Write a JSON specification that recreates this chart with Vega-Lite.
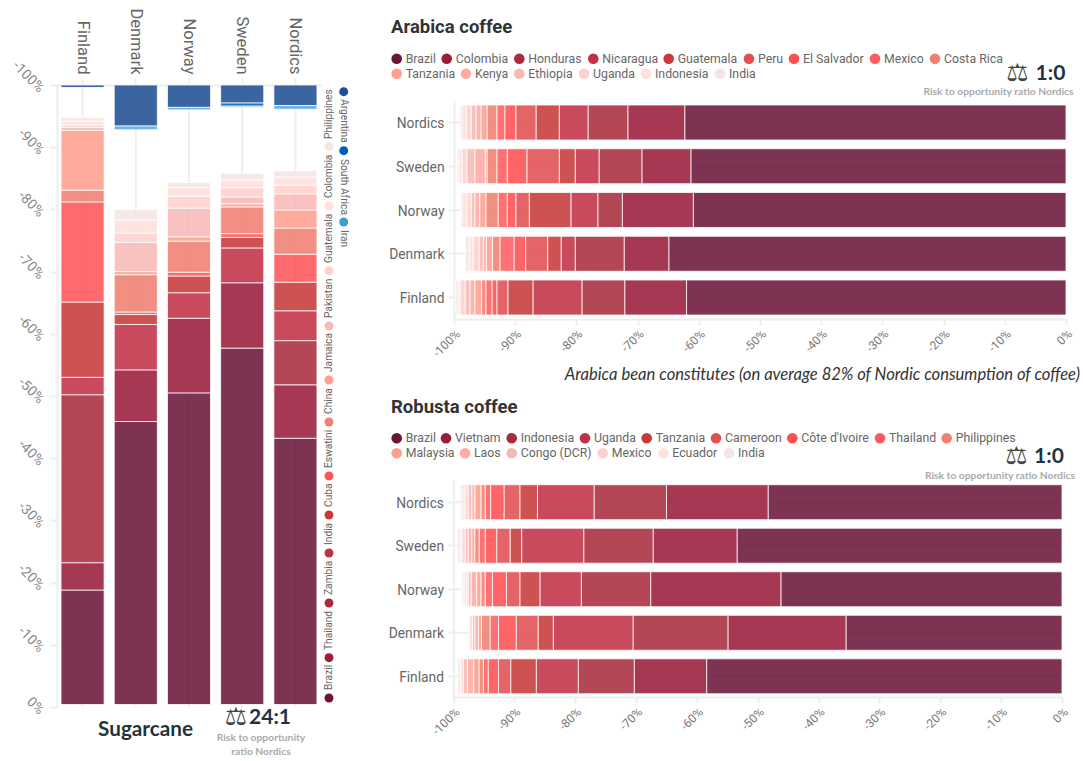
{"$schema":"https://vega.github.io/schema/vega-lite/v6.json","width":1083,"height":761,"autosize":{"type":"fit","contains":"padding"},"padding":0,"background":"white","config":{"view":{"stroke":null},"text":{"font":"Roboto"},"axis":{"domainColor":"#eeeeee","domainWidth":2,"tickColor":"#eeeeee","tickWidth":2,"grid":false,"title":null,"labelFont":"Roboto"}},"resolve":{"scale":{"x":"independent","y":"independent","color":"independent"},"axis":{"x":"independent","y":"independent"},"legend":{"color":"independent"}},
"datasets":{
"markets":[{"market":"Nordics"},{"market":"Sweden"},{"market":"Norway"},{"market":"Denmark"},{"market":"Finland"}],
"sugar":[
{"market":"Finland","origin":"Brazil","start":-0.4,"end":-18.8},{"market":"Finland","origin":"Thailand","start":-18.8,"end":-23.2},{"market":"Finland","origin":"Zambia","start":-23.2,"end":-50.2},{"market":"Finland","origin":"India","start":-50.2,"end":-53.0},{"market":"Finland","origin":"Cuba","start":-53.0,"end":-65.1},{"market":"Finland","origin":"Eswatini","start":-65.1,"end":-81.2},{"market":"Finland","origin":"China","start":-81.2,"end":-83.1},{"market":"Finland","origin":"Jamaica","start":-83.1,"end":-92.7},{"market":"Finland","origin":"Pakistan","start":-92.7,"end":-93.2},{"market":"Finland","origin":"Guatemala","start":-93.2,"end":-93.6},{"market":"Finland","origin":"Colombia","start":-93.6,"end":-94.2},{"market":"Finland","origin":"Philippines","start":-94.2,"end":-94.8},{"market":"Finland","origin":"Argentina","start":-100,"end":-99.6},{"market":"Finland","origin":"Iran","start":-99.6,"end":-99.5},
{"market":"Denmark","origin":"Brazil","start":-0.4,"end":-45.9},{"market":"Denmark","origin":"Thailand","start":-45.9,"end":-54.2},{"market":"Denmark","origin":"India","start":-54.2,"end":-61.5},{"market":"Denmark","origin":"Cuba","start":-61.5,"end":-63.1},{"market":"Denmark","origin":"Eswatini","start":-63.1,"end":-63.5},{"market":"Denmark","origin":"China","start":-63.5,"end":-69.5},{"market":"Denmark","origin":"Jamaica","start":-69.5,"end":-70.0},{"market":"Denmark","origin":"Pakistan","start":-70.0,"end":-74.7},{"market":"Denmark","origin":"Guatemala","start":-74.7,"end":-76.2},{"market":"Denmark","origin":"Colombia","start":-76.2,"end":-78.3},{"market":"Denmark","origin":"Philippines","start":-78.3,"end":-80.0},{"market":"Denmark","origin":"Argentina","start":-100,"end":-93.4},{"market":"Denmark","origin":"Iran","start":-93.4,"end":-92.8},
{"market":"Norway","origin":"Brazil","start":-0.4,"end":-50.5},{"market":"Norway","origin":"Thailand","start":-50.5,"end":-62.5},{"market":"Norway","origin":"India","start":-62.5,"end":-66.6},{"market":"Norway","origin":"Cuba","start":-66.6,"end":-69.3},{"market":"Norway","origin":"Eswatini","start":-69.3,"end":-69.9},{"market":"Norway","origin":"China","start":-69.9,"end":-74.9},{"market":"Norway","origin":"Jamaica","start":-74.9,"end":-75.6},{"market":"Norway","origin":"Pakistan","start":-75.6,"end":-80.2},{"market":"Norway","origin":"Guatemala","start":-80.2,"end":-82.1},{"market":"Norway","origin":"Colombia","start":-82.1,"end":-83.5},{"market":"Norway","origin":"Philippines","start":-83.5,"end":-84.3},{"market":"Norway","origin":"Argentina","start":-100,"end":-96.4},{"market":"Norway","origin":"Iran","start":-96.4,"end":-96.0},
{"market":"Sweden","origin":"Brazil","start":-0.4,"end":-57.7},{"market":"Sweden","origin":"Thailand","start":-57.7,"end":-68.2},{"market":"Sweden","origin":"India","start":-68.2,"end":-73.8},{"market":"Sweden","origin":"Cuba","start":-73.8,"end":-75.5},{"market":"Sweden","origin":"Eswatini","start":-75.5,"end":-76.1},{"market":"Sweden","origin":"China","start":-76.1,"end":-80.4},{"market":"Sweden","origin":"Jamaica","start":-80.4,"end":-80.9},{"market":"Sweden","origin":"Pakistan","start":-80.9,"end":-82.0},{"market":"Sweden","origin":"Guatemala","start":-82.0,"end":-83.5},{"market":"Sweden","origin":"Colombia","start":-83.5,"end":-84.7},{"market":"Sweden","origin":"Philippines","start":-84.7,"end":-85.8},{"market":"Sweden","origin":"Argentina","start":-100,"end":-97.1},{"market":"Sweden","origin":"South Africa","start":-97.1,"end":-96.6},{"market":"Sweden","origin":"Iran","start":-96.6,"end":-96.4},
{"market":"Nordics","origin":"Brazil","start":-0.4,"end":-43.2},{"market":"Nordics","origin":"Thailand","start":-43.2,"end":-51.8},{"market":"Nordics","origin":"Zambia","start":-51.8,"end":-58.9},{"market":"Nordics","origin":"India","start":-58.9,"end":-63.7},{"market":"Nordics","origin":"Cuba","start":-63.7,"end":-68.3},{"market":"Nordics","origin":"Eswatini","start":-68.3,"end":-72.8},{"market":"Nordics","origin":"China","start":-72.8,"end":-77.0},{"market":"Nordics","origin":"Jamaica","start":-77.0,"end":-79.9},{"market":"Nordics","origin":"Pakistan","start":-79.9,"end":-82.5},{"market":"Nordics","origin":"Guatemala","start":-82.5,"end":-83.9},{"market":"Nordics","origin":"Colombia","start":-83.9,"end":-85.2},{"market":"Nordics","origin":"Philippines","start":-85.2,"end":-86.2},{"market":"Nordics","origin":"Argentina","start":-100,"end":-96.7},{"market":"Nordics","origin":"Iran","start":-96.7,"end":-96.1}],
"arabica":[
{"market":"Nordics","origin":"Brazil","start":0,"end":-62.3},{"market":"Nordics","origin":"Colombia","start":-62.3,"end":-71.6},{"market":"Nordics","origin":"Honduras","start":-71.6,"end":-78.1},{"market":"Nordics","origin":"Nicaragua","start":-78.1,"end":-82.8},{"market":"Nordics","origin":"Guatemala","start":-82.8,"end":-86.6},{"market":"Nordics","origin":"Peru","start":-86.6,"end":-89.9},{"market":"Nordics","origin":"El Salvador","start":-89.9,"end":-91.7},{"market":"Nordics","origin":"Mexico","start":-91.7,"end":-93.0},{"market":"Nordics","origin":"Costa Rica","start":-93.0,"end":-94.6},{"market":"Nordics","origin":"Tanzania","start":-94.6,"end":-95.6},{"market":"Nordics","origin":"Kenya","start":-95.6,"end":-96.4},{"market":"Nordics","origin":"Ethiopia","start":-96.4,"end":-97.2},{"market":"Nordics","origin":"Uganda","start":-97.2,"end":-98.0},{"market":"Nordics","origin":"Indonesia","start":-98.0,"end":-98.7},{"market":"Nordics","origin":"India","start":-98.7,"end":-99.0},
{"market":"Sweden","origin":"Brazil","start":0,"end":-61.3},{"market":"Sweden","origin":"Colombia","start":-61.3,"end":-69.3},{"market":"Sweden","origin":"Honduras","start":-69.3,"end":-76.3},{"market":"Sweden","origin":"Nicaragua","start":-76.3,"end":-80.2},{"market":"Sweden","origin":"Guatemala","start":-80.2,"end":-82.8},{"market":"Sweden","origin":"Peru","start":-82.8,"end":-88.1},{"market":"Sweden","origin":"El Salvador","start":-88.1,"end":-91.3},{"market":"Sweden","origin":"Mexico","start":-91.3,"end":-93.0},{"market":"Sweden","origin":"Costa Rica","start":-93.0,"end":-94.6},{"market":"Sweden","origin":"Tanzania","start":-94.6,"end":-94.9},{"market":"Sweden","origin":"Kenya","start":-94.9,"end":-96.6},{"market":"Sweden","origin":"Ethiopia","start":-96.6,"end":-97.9},{"market":"Sweden","origin":"Uganda","start":-97.9,"end":-98.7},{"market":"Sweden","origin":"Indonesia","start":-98.7,"end":-99.2},{"market":"Sweden","origin":"India","start":-99.2,"end":-99.5},
{"market":"Norway","origin":"Brazil","start":0,"end":-60.9},{"market":"Norway","origin":"Colombia","start":-60.9,"end":-72.5},{"market":"Norway","origin":"Honduras","start":-72.5,"end":-76.5},{"market":"Norway","origin":"Nicaragua","start":-76.5,"end":-80.9},{"market":"Norway","origin":"Guatemala","start":-80.9,"end":-87.7},{"market":"Norway","origin":"Peru","start":-87.7,"end":-89.9},{"market":"Norway","origin":"El Salvador","start":-89.9,"end":-91.3},{"market":"Norway","origin":"Mexico","start":-91.3,"end":-92.8},{"market":"Norway","origin":"Costa Rica","start":-92.8,"end":-94.8},{"market":"Norway","origin":"Tanzania","start":-94.8,"end":-95.8},{"market":"Norway","origin":"Kenya","start":-95.8,"end":-96.6},{"market":"Norway","origin":"Ethiopia","start":-96.6,"end":-97.2},{"market":"Norway","origin":"Uganda","start":-97.2,"end":-97.9},{"market":"Norway","origin":"Indonesia","start":-97.9,"end":-98.7},{"market":"Norway","origin":"India","start":-98.7,"end":-98.9},
{"market":"Denmark","origin":"Brazil","start":0,"end":-64.9},{"market":"Denmark","origin":"Colombia","start":-64.9,"end":-72.2},{"market":"Denmark","origin":"Honduras","start":-72.2,"end":-80.2},{"market":"Denmark","origin":"Nicaragua","start":-80.2,"end":-82.5},{"market":"Denmark","origin":"Guatemala","start":-82.5,"end":-84.7},{"market":"Denmark","origin":"Peru","start":-84.7,"end":-88.3},{"market":"Denmark","origin":"El Salvador","start":-88.3,"end":-90.2},{"market":"Denmark","origin":"Mexico","start":-90.2,"end":-92.5},{"market":"Denmark","origin":"Costa Rica","start":-92.5,"end":-93.7},{"market":"Denmark","origin":"Tanzania","start":-93.7,"end":-94.7},{"market":"Denmark","origin":"Kenya","start":-94.7,"end":-95.2},{"market":"Denmark","origin":"Ethiopia","start":-95.2,"end":-95.9},{"market":"Denmark","origin":"Uganda","start":-95.9,"end":-96.9},{"market":"Denmark","origin":"Indonesia","start":-96.9,"end":-97.5},{"market":"Denmark","origin":"India","start":-97.5,"end":-98.1},
{"market":"Finland","origin":"Brazil","start":0,"end":-62.0},{"market":"Finland","origin":"Colombia","start":-62.0,"end":-72.1},{"market":"Finland","origin":"Honduras","start":-72.1,"end":-79.1},{"market":"Finland","origin":"Nicaragua","start":-79.1,"end":-87.1},{"market":"Finland","origin":"Guatemala","start":-87.1,"end":-91.2},{"market":"Finland","origin":"Peru","start":-91.2,"end":-93.0},{"market":"Finland","origin":"El Salvador","start":-93.0,"end":-93.8},{"market":"Finland","origin":"Mexico","start":-93.8,"end":-94.8},{"market":"Finland","origin":"Costa Rica","start":-94.8,"end":-95.5},{"market":"Finland","origin":"Tanzania","start":-95.5,"end":-96.6},{"market":"Finland","origin":"Kenya","start":-96.6,"end":-97.4},{"market":"Finland","origin":"Ethiopia","start":-97.4,"end":-98.2},{"market":"Finland","origin":"Uganda","start":-98.2,"end":-99.0},{"market":"Finland","origin":"Indonesia","start":-99.0,"end":-99.3},{"market":"Finland","origin":"India","start":-99.3,"end":-99.7}],
"robusta":[
{"market":"Nordics","origin":"Brazil","start":0,"end":-48.3},{"market":"Nordics","origin":"Vietnam","start":-48.3,"end":-65.0},{"market":"Nordics","origin":"Indonesia","start":-65.0,"end":-76.9},{"market":"Nordics","origin":"Uganda","start":-76.9,"end":-86.2},{"market":"Nordics","origin":"Tanzania","start":-86.2,"end":-89.1},{"market":"Nordics","origin":"Cameroon","start":-89.1,"end":-91.7},{"market":"Nordics","origin":"Côte d'Ivoire","start":-91.7,"end":-93.9},{"market":"Nordics","origin":"Thailand","start":-93.9,"end":-94.8},{"market":"Nordics","origin":"Philippines","start":-94.8,"end":-95.5},{"market":"Nordics","origin":"Malaysia","start":-95.5,"end":-96.5},{"market":"Nordics","origin":"Laos","start":-96.5,"end":-97.0},{"market":"Nordics","origin":"Congo (DCR)","start":-97.0,"end":-97.6},{"market":"Nordics","origin":"Mexico","start":-97.6,"end":-98.1},{"market":"Nordics","origin":"Ecuador","start":-98.1,"end":-98.6},{"market":"Nordics","origin":"India","start":-98.6,"end":-98.9},
{"market":"Sweden","origin":"Brazil","start":0,"end":-53.4},{"market":"Sweden","origin":"Vietnam","start":-53.4,"end":-67.2},{"market":"Sweden","origin":"Indonesia","start":-67.2,"end":-78.6},{"market":"Sweden","origin":"Uganda","start":-78.6,"end":-88.8},{"market":"Sweden","origin":"Tanzania","start":-88.8,"end":-90.7},{"market":"Sweden","origin":"Cameroon","start":-90.7,"end":-92.9},{"market":"Sweden","origin":"Côte d'Ivoire","start":-92.9,"end":-94.8},{"market":"Sweden","origin":"Thailand","start":-94.8,"end":-95.8},{"market":"Sweden","origin":"Philippines","start":-95.8,"end":-96.5},{"market":"Sweden","origin":"Malaysia","start":-96.5,"end":-97.0},{"market":"Sweden","origin":"Laos","start":-97.0,"end":-97.6},{"market":"Sweden","origin":"Congo (DCR)","start":-97.6,"end":-98.1},{"market":"Sweden","origin":"Mexico","start":-98.1,"end":-98.6},{"market":"Sweden","origin":"Ecuador","start":-98.6,"end":-98.9},{"market":"Sweden","origin":"India","start":-98.9,"end":-99.3},
{"market":"Norway","origin":"Brazil","start":0,"end":-46.2},{"market":"Norway","origin":"Vietnam","start":-46.2,"end":-67.6},{"market":"Norway","origin":"Indonesia","start":-67.6,"end":-79.0},{"market":"Norway","origin":"Uganda","start":-79.0,"end":-85.8},{"market":"Norway","origin":"Tanzania","start":-85.8,"end":-89.1},{"market":"Norway","origin":"Cameroon","start":-89.1,"end":-91.3},{"market":"Norway","origin":"Côte d'Ivoire","start":-91.3,"end":-93.6},{"market":"Norway","origin":"Thailand","start":-93.6,"end":-94.8},{"market":"Norway","origin":"Philippines","start":-94.8,"end":-95.5},{"market":"Norway","origin":"Malaysia","start":-95.5,"end":-96.2},{"market":"Norway","origin":"Laos","start":-96.2,"end":-97.1},{"market":"Norway","origin":"Congo (DCR)","start":-97.1,"end":-97.6},{"market":"Norway","origin":"Mexico","start":-97.6,"end":-97.9},{"market":"Norway","origin":"Ecuador","start":-97.9,"end":-98.3},{"market":"Norway","origin":"India","start":-98.3,"end":-98.6},
{"market":"Denmark","origin":"Brazil","start":0,"end":-35.5},{"market":"Denmark","origin":"Vietnam","start":-35.5,"end":-54.9},{"market":"Denmark","origin":"Indonesia","start":-54.9,"end":-70.5},{"market":"Denmark","origin":"Uganda","start":-70.5,"end":-83.6},{"market":"Denmark","origin":"Tanzania","start":-83.6,"end":-86.1},{"market":"Denmark","origin":"Cameroon","start":-86.1,"end":-89.7},{"market":"Denmark","origin":"Côte d'Ivoire","start":-89.7,"end":-92.6},{"market":"Denmark","origin":"Thailand","start":-92.6,"end":-94.0},{"market":"Denmark","origin":"Philippines","start":-94.0,"end":-95.4},{"market":"Denmark","origin":"Malaysia","start":-95.4,"end":-95.9},{"market":"Denmark","origin":"Laos","start":-95.9,"end":-96.5},{"market":"Denmark","origin":"Congo (DCR)","start":-96.5,"end":-96.9},{"market":"Denmark","origin":"Mexico","start":-96.9,"end":-97.3},{"market":"Denmark","origin":"Ecuador","start":-97.3,"end":-97.5},{"market":"Denmark","origin":"India","start":-97.5,"end":-97.6},
{"market":"Finland","origin":"Brazil","start":0,"end":-58.4},{"market":"Finland","origin":"Vietnam","start":-58.4,"end":-70.3},{"market":"Finland","origin":"Indonesia","start":-70.3,"end":-79.5},{"market":"Finland","origin":"Uganda","start":-79.5,"end":-86.4},{"market":"Finland","origin":"Tanzania","start":-86.4,"end":-90.6},{"market":"Finland","origin":"Cameroon","start":-90.6,"end":-92.6},{"market":"Finland","origin":"Côte d'Ivoire","start":-92.6,"end":-94.3},{"market":"Finland","origin":"Thailand","start":-94.3,"end":-95.1},{"market":"Finland","origin":"Philippines","start":-95.1,"end":-95.8},{"market":"Finland","origin":"Malaysia","start":-95.8,"end":-96.7},{"market":"Finland","origin":"Laos","start":-96.7,"end":-97.7},{"market":"Finland","origin":"Congo (DCR)","start":-97.7,"end":-98.4},{"market":"Finland","origin":"Mexico","start":-98.4,"end":-98.8},{"market":"Finland","origin":"Ecuador","start":-98.8,"end":-98.9},{"market":"Finland","origin":"India","start":-98.9,"end":-99.3}],
"sugarLegend":[{"origin":"Brazil","rank":1,"col":1},{"origin":"Thailand","rank":2,"col":1},{"origin":"Zambia","rank":3,"col":1},{"origin":"India","rank":4,"col":1},{"origin":"Cuba","rank":5,"col":1},{"origin":"Eswatini","rank":6,"col":1},{"origin":"China","rank":7,"col":1},{"origin":"Jamaica","rank":8,"col":1},{"origin":"Pakistan","rank":9,"col":1},{"origin":"Guatemala","rank":10,"col":1},{"origin":"Colombia","rank":11,"col":1},{"origin":"Philippines","rank":12,"col":1},{"origin":"Argentina","rank":13,"col":2},{"origin":"South Africa","rank":14,"col":2},{"origin":"Iran","rank":15,"col":2}],
"arabicaLegend":[{"origin":"Brazil","rank":1,"line":1},{"origin":"Colombia","rank":2,"line":1},{"origin":"Honduras","rank":3,"line":1},{"origin":"Nicaragua","rank":4,"line":1},{"origin":"Guatemala","rank":5,"line":1},{"origin":"Peru","rank":6,"line":1},{"origin":"El Salvador","rank":7,"line":1},{"origin":"Mexico","rank":8,"line":1},{"origin":"Costa Rica","rank":9,"line":1},{"origin":"Tanzania","rank":10,"line":2},{"origin":"Kenya","rank":11,"line":2},{"origin":"Ethiopia","rank":12,"line":2},{"origin":"Uganda","rank":13,"line":2},{"origin":"Indonesia","rank":14,"line":2},{"origin":"India","rank":15,"line":2}],
"robustaLegend":[{"origin":"Brazil","rank":1,"line":1},{"origin":"Vietnam","rank":2,"line":1},{"origin":"Indonesia","rank":3,"line":1},{"origin":"Uganda","rank":4,"line":1},{"origin":"Tanzania","rank":5,"line":1},{"origin":"Cameroon","rank":6,"line":1},{"origin":"Côte d'Ivoire","rank":7,"line":1},{"origin":"Thailand","rank":8,"line":1},{"origin":"Philippines","rank":9,"line":1},{"origin":"Malaysia","rank":10,"line":2},{"origin":"Laos","rank":11,"line":2},{"origin":"Congo (DCR)","rank":12,"line":2},{"origin":"Mexico","rank":13,"line":2},{"origin":"Ecuador","rank":14,"line":2},{"origin":"India","rank":15,"line":2}]
},
"layer":[
{"data":{"name":"markets"},"mark":{"type":"rule","color":"#eeeeee","strokeWidth":2},"encoding":{"x":{"field":"market","type":"nominal","axis":null,"scale":{"domain":["Finland","Denmark","Norway","Sweden","Nordics"],"range":[55.7,322.3],"paddingInner":0.19,"paddingOuter":0.1}},"y":{"datum":-100,"type":"quantitative","axis":null,"scale":{"domain":[-100,0],"range":[85,707],"nice":false,"zero":false}},"y2":{"datum":0}}},
{"data":{"name":"sugar"},"mark":{"type":"bar","opacity":0.87,"stroke":"white","strokeWidth":0.8},"encoding":{
"x":{"field":"market","type":"nominal","scale":{"domain":["Finland","Denmark","Norway","Sweden","Nordics"],"range":[55.7,322.3],"paddingInner":0.19,"paddingOuter":0.1},"axis":{"orient":"top","offset":-85,"labelAngle":90,"labelAlign":"right","labelBaseline":"middle","labelFontSize":16.5,"labelColor":"#666666","tickSize":7,"labelPadding":4}},
"y":{"field":"start","type":"quantitative","scale":{"domain":[-100,0],"range":[85,707],"nice":false,"zero":false},"axis":{"orient":"left","offset":-57,"values":[-100,-90,-80,-70,-60,-50,-40,-30,-20,-10,0],"labelExpr":"datum.value + '%'","labelAngle":45,"labelAlign":"right","labelBaseline":"top","labelFontSize":14,"labelColor":"#888888","tickSize":7,"labelPadding":4}},
"y2":{"field":"end"},
"color":{"field":"origin","type":"nominal","legend":null,"scale":{"domain":["Brazil","Thailand","Zambia","India","Cuba","Eswatini","China","Jamaica","Pakistan","Guatemala","Colombia","Philippines","Argentina","South Africa","Iran"],"range":["#6a1538","#9a1b3a","#a92c3c","#c23044","#c8393a","#ff5557","#f08070","#ff9f8e","#f6bab6","#ffd1ce","#ffe0dd","#f3e6e4","#1f4f93","#0060b8","#5aaae0"]}}}},
{"data":{"name":"sugarLegend"},"mark":{"type":"point","filled":true,"size":80,"opacity":1},"encoding":{
"x":{"field":"col","type":"quantitative","axis":null,"scale":{"domain":[1,2],"range":[329,343.7],"nice":false,"zero":false}},
"y":{"field":"rank","type":"quantitative","axis":null,"scale":{"domain":[1,2,3,4,5,6,7,8,9,10,11,12,13,14,15],"range":[698,657.7,603,553,515,476,422,380,326,270.7,206,146.7,91.7,150.7,222],"zero":false,"nice":false}},
"color":{"field":"origin","type":"nominal","legend":null,"scale":{"domain":["Brazil","Thailand","Zambia","India","Cuba","Eswatini","China","Jamaica","Pakistan","Guatemala","Colombia","Philippines","Argentina","South Africa","Iran"],"range":["#6a1538","#9a1b3a","#a92c3c","#c23044","#c8393a","#ff5557","#f08070","#ff9f8e","#f6bab6","#ffd1ce","#ffe0dd","#f3e6e4","#1f4f93","#0060b8","#3d9fd0"]}}}},
{"data":{"name":"sugarLegend"},"transform":[{"filter":"datum.col == 1"}],"mark":{"type":"text","angle":270,"align":"left","baseline":"middle","fontSize":10.2,"color":"#666666","font":"Roboto"},"encoding":{"text":{"field":"origin"},
"x":{"field":"col","type":"quantitative","axis":null,"scale":{"domain":[1,2],"range":[329,343.7],"nice":false,"zero":false}},
"y":{"field":"rank","type":"quantitative","axis":null,"scale":{"domain":[1,2,3,4,5,6,7,8,9,10,11,12],"range":[690,650,595,545,507,468,414,372,318,263,198,139],"zero":false,"nice":false}}}},
{"data":{"name":"sugarLegend"},"transform":[{"filter":"datum.col == 2"}],"mark":{"type":"text","angle":90,"align":"left","baseline":"middle","fontSize":10.2,"color":"#666666","font":"Roboto"},"encoding":{"text":{"field":"origin"},
"x":{"field":"col","type":"quantitative","axis":null,"scale":{"domain":[1,2],"range":[329,343.7],"nice":false,"zero":false}},
"y":{"field":"rank","type":"quantitative","axis":null,"scale":{"domain":[13,14,15],"range":[99,159,230],"zero":false,"nice":false}}}},
{"data":{"name":"markets"},"mark":{"type":"rule","color":"#eeeeee","strokeWidth":2},"encoding":{"y":{"field":"market","type":"nominal","axis":null,"scale":{"domain":["Nordics","Sweden","Norway","Denmark","Finland"],"range":[100,320],"paddingInner":0.2,"paddingOuter":0.114}},"x":{"datum":-100,"type":"quantitative","axis":null,"scale":{"domain":[-100,0],"range":[454,1066],"nice":false,"zero":false}},"x2":{"datum":0}}},
{"data":{"name":"arabica"},"mark":{"type":"bar","opacity":0.87,"stroke":"white","strokeWidth":0.8},"encoding":{
"y":{"field":"market","type":"nominal","scale":{"domain":["Nordics","Sweden","Norway","Denmark","Finland"],"range":[100,320],"paddingInner":0.2,"paddingOuter":0.114},"axis":{"orient":"left","offset":-454,"labelFontSize":13.8,"labelColor":"#666666","tickSize":6,"labelPadding":4,"labelAngle":0,"labelOffset":1.5}},
"x":{"field":"start","type":"quantitative","scale":{"domain":[-100,0],"range":[454,1066],"nice":false,"zero":false},"axis":{"orient":"bottom","offset":-442,"values":[-100,-90,-80,-70,-60,-50,-40,-30,-20,-10,0],"labelExpr":"datum.value + '%'","labelAngle":-45,"labelAlign":"right","labelBaseline":"top","labelFontSize":12,"labelColor":"#777777","tickSize":6,"labelPadding":3}},
"x2":{"field":"end"},
"color":{"field":"origin","type":"nominal","legend":null,"scale":{"domain":["Brazil","Colombia","Honduras","Nicaragua","Guatemala","Peru","El Salvador","Mexico","Costa Rica","Tanzania","Kenya","Ethiopia","Uganda","Indonesia","India"],"range":["#6a1538","#9a1b3a","#a92c3c","#c23044","#c8393a","#e24e52","#ff4f50","#ff5c60","#f08070","#ff9f8e","#ffaaa3","#f6bab6","#ffd1ce","#ffe0dd","#f3e6e4"]}}}},
{"data":{"name":"arabicaLegend"},"mark":{"type":"point","filled":true,"size":113,"opacity":1},"encoding":{
"x":{"field":"rank","type":"quantitative","axis":null,"scale":{"domain":[1,2,3,4,5,6,7,8,9,10,11,12,13,14,15],"range":[396.7,446.7,519.3,593.3,668.7,749,794,875,935,396.7,466,519.3,584,646,720],"zero":false,"nice":false}},
"y":{"field":"line","type":"quantitative","axis":null,"scale":{"domain":[1,2],"range":[58.7,73.7],"zero":false,"nice":false}},
"color":{"field":"origin","type":"nominal","legend":null,"scale":{"domain":["Brazil","Colombia","Honduras","Nicaragua","Guatemala","Peru","El Salvador","Mexico","Costa Rica","Tanzania","Kenya","Ethiopia","Uganda","Indonesia","India"],"range":["#6a1538","#9a1b3a","#a92c3c","#c23044","#c8393a","#e24e52","#ff4f50","#ff5c60","#f08070","#ff9f8e","#ffaaa3","#f6bab6","#ffd1ce","#ffe0dd","#f3e6e4"]}}}},
{"data":{"name":"arabicaLegend"},"mark":{"type":"text","align":"left","baseline":"middle","fontSize":12.3,"color":"#666666","font":"Roboto"},"encoding":{"text":{"field":"origin"},
"x":{"field":"rank","type":"quantitative","axis":null,"scale":{"domain":[1,2,3,4,5,6,7,8,9,10,11,12,13,14,15],"range":[405.7,455.7,528.3,602.3,677.7,758,803,884,944,405.7,475,528.3,593,655,729],"zero":false,"nice":false}},
"y":{"field":"line","type":"quantitative","axis":null,"scale":{"domain":[1,2],"range":[58.7,73.7],"zero":false,"nice":false}}}},
{"data":{"name":"markets"},"mark":{"type":"rule","color":"#eeeeee","strokeWidth":2},"encoding":{"y":{"field":"market","type":"nominal","axis":null,"scale":{"domain":["Nordics","Sweden","Norway","Denmark","Finland"],"range":[479.5,699],"paddingInner":0.197,"paddingOuter":0.12}},"x":{"datum":-100,"type":"quantitative","axis":null,"scale":{"domain":[-100,0],"range":[453.5,1062],"nice":false,"zero":false}},"x2":{"datum":0}}},
{"data":{"name":"robusta"},"mark":{"type":"bar","opacity":0.87,"stroke":"white","strokeWidth":0.8},"encoding":{
"y":{"field":"market","type":"nominal","scale":{"domain":["Nordics","Sweden","Norway","Denmark","Finland"],"range":[479.5,699],"paddingInner":0.197,"paddingOuter":0.12},"axis":{"orient":"left","offset":-453.5,"labelFontSize":13.8,"labelColor":"#666666","tickSize":6,"labelPadding":4,"labelAngle":0,"labelOffset":1.5}},
"x":{"field":"start","type":"quantitative","scale":{"domain":[-100,0],"range":[453.5,1062],"nice":false,"zero":false},"axis":{"orient":"bottom","offset":-64,"values":[-100,-90,-80,-70,-60,-50,-40,-30,-20,-10,0],"labelExpr":"datum.value + '%'","labelAngle":-45,"labelAlign":"right","labelBaseline":"top","labelFontSize":12,"labelColor":"#777777","tickSize":6,"labelPadding":3}},
"x2":{"field":"end"},
"color":{"field":"origin","type":"nominal","legend":null,"scale":{"domain":["Brazil","Vietnam","Indonesia","Uganda","Tanzania","Cameroon","Côte d'Ivoire","Thailand","Philippines","Malaysia","Laos","Congo (DCR)","Mexico","Ecuador","India"],"range":["#6a1538","#9a1b3a","#a92c3c","#c23044","#c8393a","#e24e52","#ff4f50","#ff5c60","#f08070","#ff9f8e","#ffaaa3","#f6bab6","#ffd1ce","#ffe0dd","#f3e6e4"]}}}},
{"data":{"name":"robustaLegend"},"mark":{"type":"point","filled":true,"size":113,"opacity":1},"encoding":{
"x":{"field":"rank","type":"quantitative","axis":null,"scale":{"domain":[1,2,3,4,5,6,7,8,9,10,11,12,13,14,15],"range":[396.7,446,511.7,585,646.7,716,792.3,880,946.7,396.7,465,511.7,602.7,663.3,729],"zero":false,"nice":false}},
"y":{"field":"line","type":"quantitative","axis":null,"scale":{"domain":[1,2],"range":[438.3,453.3],"zero":false,"nice":false}},
"color":{"field":"origin","type":"nominal","legend":null,"scale":{"domain":["Brazil","Vietnam","Indonesia","Uganda","Tanzania","Cameroon","Côte d'Ivoire","Thailand","Philippines","Malaysia","Laos","Congo (DCR)","Mexico","Ecuador","India"],"range":["#6a1538","#9a1b3a","#a92c3c","#c23044","#c8393a","#e24e52","#ff4f50","#ff5c60","#f08070","#ff9f8e","#ffaaa3","#f6bab6","#ffd1ce","#ffe0dd","#f3e6e4"]}}}},
{"data":{"name":"robustaLegend"},"mark":{"type":"text","align":"left","baseline":"middle","fontSize":12.3,"color":"#666666","font":"Roboto"},"encoding":{"text":{"field":"origin"},
"x":{"field":"rank","type":"quantitative","axis":null,"scale":{"domain":[1,2,3,4,5,6,7,8,9,10,11,12,13,14,15],"range":[405.7,455,520.7,594,655.7,725,801.3,889,955.7,405.7,474,520.7,611.7,672.3,738],"zero":false,"nice":false}},
"y":{"field":"line","type":"quantitative","axis":null,"scale":{"domain":[1,2],"range":[438.3,453.3],"zero":false,"nice":false}}}},
{"data":{"values":[{"label":"Arabica coffee","slot":1},{"label":"Robusta coffee","slot":2}]},"mark":{"type":"text","font":"Roboto","fontWeight":"bold","fontSize":18.5,"color":"#333333","align":"left","baseline":"middle"},"encoding":{"text":{"field":"label"},"x":{"field":"slot","type":"quantitative","axis":null,"scale":{"domain":[1,2],"range":[391,391],"zero":false,"nice":false}},"y":{"field":"slot","type":"quantitative","axis":null,"scale":{"domain":[1,2],"range":[27,407],"zero":false,"nice":false}}}},
{"data":{"values":[{"label":"Sugarcane","slot":1}]},"mark":{"type":"text","font":"Lato","fontWeight":"bold","fontSize":20.7,"color":"#1f3440","align":"center","baseline":"middle"},"encoding":{"text":{"field":"label"},"x":{"field":"slot","type":"quantitative","axis":null,"scale":{"domain":[0,1],"range":[145.5,145.5],"zero":false,"nice":false}},"y":{"field":"slot","type":"quantitative","axis":null,"scale":{"domain":[0,1],"range":[730,730],"zero":false,"nice":false}}}},
{"data":{"values":[{"label":"24:1","slot":1},{"label":"1:0","slot":2},{"label":"1:0","slot":3}]},"mark":{"type":"text","font":"Lato","fontWeight":"bold","fontSize":21,"color":"#1f3440","align":"center","baseline":"middle"},"encoding":{"text":{"field":"label"},"x":{"field":"slot","type":"quantitative","axis":null,"scale":{"domain":[1,2,3],"range":[270,1050.5,1049],"zero":false,"nice":false}},"y":{"field":"slot","type":"quantitative","axis":null,"scale":{"domain":[1,2,3],"range":[718,74,457],"zero":false,"nice":false}}}},
{"data":{"values":[{"label":"⚖","slot":1},{"label":"⚖","slot":2},{"label":"⚖","slot":3}]},"mark":{"type":"text","font":"DejaVu Sans","fontSize":25,"color":"#444444","align":"center","baseline":"middle"},"encoding":{"text":{"field":"label"},"x":{"field":"slot","type":"quantitative","axis":null,"scale":{"domain":[1,2,3],"range":[236,1017.5,1016.5],"zero":false,"nice":false}},"y":{"field":"slot","type":"quantitative","axis":null,"scale":{"domain":[1,2,3],"range":[717,73,456],"zero":false,"nice":false}}}},
{"data":{"values":[{"label":"Risk to opportunity","slot":1},{"label":"ratio Nordics","slot":2},{"label":"Risk to opportunity ratio Nordics","slot":3},{"label":"Risk to opportunity ratio Nordics","slot":4}]},"mark":{"type":"text","font":"Lato","fontWeight":"bold","fontSize":10.3,"color":"#aaaaaa","align":"center","baseline":"middle"},"encoding":{"text":{"field":"label"},"x":{"field":"slot","type":"quantitative","axis":null,"scale":{"domain":[1,2,3,4],"range":[261,261,998.5,1000],"zero":false,"nice":false}},"y":{"field":"slot","type":"quantitative","axis":null,"scale":{"domain":[1,2,3,4],"range":[738,752,92,476],"zero":false,"nice":false}}}},
{"data":{"values":[{"label":"Arabica bean constitutes (on average 82% of Nordic consumption of coffee)","slot":1}]},"mark":{"type":"text","font":"Lato","fontStyle":"italic","fontSize":16.6,"color":"#333333","align":"right","baseline":"middle"},"encoding":{"text":{"field":"label"},"x":{"field":"slot","type":"quantitative","axis":null,"scale":{"domain":[0,1],"range":[1080,1080],"zero":false,"nice":false}},"y":{"field":"slot","type":"quantitative","axis":null,"scale":{"domain":[0,1],"range":[375,375],"zero":false,"nice":false}}}}
]}
